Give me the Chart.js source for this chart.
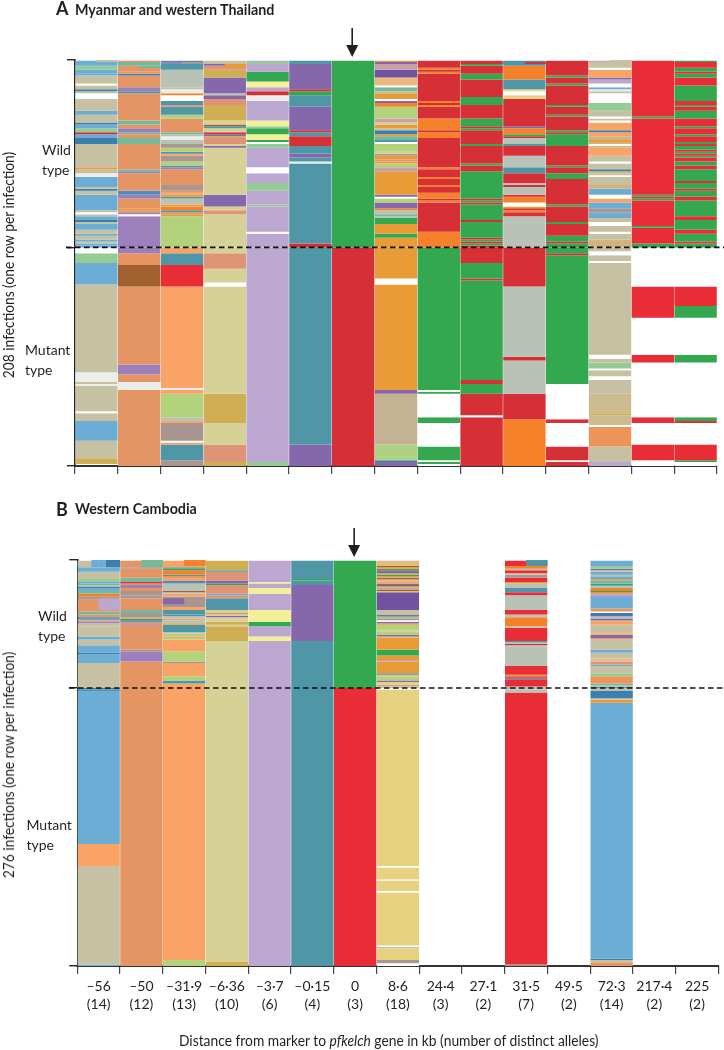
<!DOCTYPE html>
<html>
<head>
<meta charset="utf-8">
<script src="https://cdn.jsdelivr.net/npm/chart.js"></script>
<style>
  html, body { margin: 0; padding: 0; background: #fff; }
  body { width: 724px; height: 1050px; position: relative; overflow: hidden; font-family: Lato, "Noto Sans", sans-serif; color: #231f20; }
  canvas { position: absolute; left: 0; }
  .txt { position: absolute; white-space: nowrap; font-size: 14px; line-height: 20px; }
  .panel { font-weight: 700; font-size: 14.3px; }
  .letter { font-weight: 700; font-size: 18px; }
  .ylab { transform: translate(-50%, -50%) rotate(-90deg) scaleX(0.95); font-size: 14.5px; }
</style>
</head>
<body>
<canvas id="chartA" style="top:0"></canvas>
<canvas id="chartB" style="top:500px"></canvas>

<div class="txt letter" style="left:56px;top:-2px">A</div>
<div class="txt panel" style="left:75px;top:0px">Myanmar and western Thailand</div>
<div class="txt" style="left:42px;top:140px">Wild<br>type</div>
<div class="txt" style="left:25px;top:340px">Mutant<br>type</div>
<div class="txt ylab" style="left:9px;top:264.5px">208 infections (one row per infection)</div>

<div class="txt letter" style="left:56px;top:499px">B</div>
<div class="txt panel" style="left:75px;top:499px">Western Cambodia</div>
<div class="txt" style="left:38px;top:606px">Wild<br>type</div>
<div class="txt" style="left:26.5px;top:815px">Mutant<br>type</div>
<div class="txt ylab" style="left:9px;top:764.5px">276 infections (one row per infection)</div>
<div class="txt" style="left:179px;top:1031px;font-size:14.5px;transform:scaleX(0.953);transform-origin:left center">Distance from marker to <i>pfkelch</i> gene in kb (number of distinct alleles)</div>

<script>
"use strict";

const distances = ['–56', '–50', '–31·9', '–6·36', '–3·7', '–0·15', '0', '8·6', '24·4', '27·1', '31·5', '49·5', '72·3', '217·4', '225'];
const alleleCounts = ['(14)', '(12)', '(13)', '(10)', '(6)', '(4)', '(3)', '(18)', '(3)', '(2)', '(7)', '(2)', '(14)', '(2)', '(2)'];

const wildA = 96, totalA = 208;
const wildB = 87, totalB = 276;

// each column is allele code, number of rows ... from the top row down. w = no data
const a1 = ['bl',3,'lg',2,'bl',2,'bl',1,'tn',4,'w',1,'tn',2,'dk',1,'tn',1,'w',3,'tn',6,'bl',2,'tn',4,'dk',1,'bl',2,'lg',2,'rd',1,'bl',2,'dk',3,'tn',12,'am',1,'tn',2,'ws',2,'bl',5,'tn',1,'dk',1,'tn',2,'bl',8,'tn',1,'w',1,'tn',1,'bl',2,'dk',1,'tn',1,'bl',3,'tn',2,'bl',1,'tn',2,'bl',1,'tn',1,'bl',1,
  'bl',1,'w',3,'lg',5,'bl',11,'tn',45,'ws',5,'tn',1,'ws',1,'tn',13,'w',1,'tn',4,'bl',10,'tn',9,'mu',3];
const a2 = ['or',1,'sg',2,'or',3,'or',1,'dk',1,'or',6,'mv',2,'tl',1,'or',3,'or',11,'sg',2,'or',2,'mv',2,'sg',1,'or',2,'sg',3,'or',13,'sg',1,'mv',1,'or',9,'bb',2,'mv',2,'or',5,'am',1,'or',1,'mv',1,'w',1,'mv',16,
  'mv',3,'or',6,'br',11,'or',40,'mv',5,'or',4,'ws',4,'or',39];
const a3 = ['tl',1,'mv',1,'tl',3,'gy',9,'tn',1,'ws',2,'og',1,'w',3,'tl',2,'sl',1,'tl',4,'lm',2,'or',7,'sg',1,'gy',1,'ws',2,'gy',2,'tp',2,'lm',2,'tl',1,'pc',1,'tp',3,'lm',2,'tl',1,'mv',1,'or',8,'tp',3,'or',1,'pc',1,'am',1,'tl',1,'gy',3,'am',1,'og',2,'tl',1,'or',1,'am',1,'lm',16,
  'pc',3,'tl',6,'rb',11,'pc',52,'ws',1,'pc',2,'lm',12,'gy',2,'pc',1,'tp',9,'w',1,'pc',1,'tl',8,'tp',3];
const a4 = ['tn',2,'pu',1,'sl',2,'mu',4,'pu',8,'gy',1,'pu',2,'sl',3,'mu',8,'kh',2,'br',1,'tl',1,'kh',2,'rd',1,'pu',1,'mu',1,'sl',3,'kh',1,'pu',1,'kh',24,'pu',6,'kh',2,'sl',2,'kh',17,
  'kh',3,'sl',8,'kh',7,'w',2,'kh',55,'mu',15,'kh',11,'sl',9,'mu',2];
const a5 = ['li',1,'lg',1,'li',4,'gr',5,'yl',3,'li',2,'rd',2,'ws',3,'li',10,'yl',3,'lg',1,'gr',3,'yl',3,'gr',1,'w',1,'lg',2,'li',10,'w',3,'li',5,'lg',4,'li',7,'lg',1,'li',13,'w',1,'li',7,
  'li',110,'lg',2];
const a6 = ['tl',2,'pu',13,'rd',1,'gr',2,'tl',6,'pu',12,'rd',1,'tl',2,'rd',5,'tl',4,'pu',2,'tl',2,'ws',1,'tl',41,'rd',2,
  'tl',101,'pu',11];
const a7 = ['gr',96,'rd',112];
const a8 = ['am',1,'pu',1,'ma',3,'dp',4,'sa',4,'w',1,'sg',2,'tn',1,'am',3,'w',1,'pu',1,'og',2,'lm',6,'ma',2,'kh',1,'am',2,'tn',1,'dk',2,'am',1,'sg',2,'tl',1,'w',1,'lm',4,'kh',1,'tp',1,'am',2,'sl',1,'am',1,'lm',2,'ma',2,'am',12,'pu',1,'w',1,'lm',2,'pu',3,'og',1,'gy',2,'sg',1,'gy',1,'gr',3,'am',5,'gr',2,'am',5,
  'am',16,'w',3,'am',54,'pu',2,'sn',26,'lt',8,'dk',1,'pu',2];
const a9 = ['rd',4,'og',1,'rd',1,'og',1,'rd',14,'og',1,'rd',1,'og',1,'rd',6,'og',6,'rd',1,'og',3,'rd',15,'og',1,'rd',4,'og',1,'rd',3,'og',1,'rd',3,'og',3,'rd',1,'og',1,'rd',15,'og',8,
  'gr',73,'w',1,'gr',1,'w',12,'gr',3,'w',12,'gr',7,'w',1,'gr',1,'w',1];
const a10 = ['rd',2,'gr',1,'rd',4,'gr',3,'rd',9,'gr',4,'rd',7,'gr',4,'rd',1,'gr',1,'rd',7,'gr',1,'rd',9,'gr',1,'rd',3,'gr',14,'rd',1,'gr',1,'rd',1,'gr',8,'rd',1,'gr',8,'rd',1,'gr',1,'rd',1,'gr',1,'rd',1,
  'rd',8,'gr',8,'rd',1,'gr',51,'rd',2,'gr',5,'rd',11,'w',1,'rd',25];
const a11 = ['tl',3,'og',7,'tl',5,'go',1,'w',2,'go',2,'rd',14,'pu',1,'og',3,'gr',1,'rd',1,'gy',3,'tl',1,'rd',5,'gy',6,'tl',3,'rd',5,'gy',1,'rd',1,'gy',4,'rd',1,'og',3,'w',2,'am',1,'rd',1,'og',1,'rd',2,'gy',16,
  'rd',20,'gy',36,'rd',2,'gy',17,'rd',13,'og',24];
const a12 = ['rd',8,'gr',1,'rd',3,'gr',1,'rd',10,'gr',1,'rd',4,'gr',1,'rd',7,'gr',1,'rd',1,'gr',6,'rd',10,'gr',1,'rd',3,'gr',3,'rd',13,'gr',1,'rd',8,'gr',1,'rd',6,'gr',3,'rd',1,'gr',2,
  'gr',3,'rd',1,'gr',66,'w',18,'rd',2,'w',12,'rd',7,'w',1,'rd',2];
const a13 = ['li',1,'tn',3,'w',1,'pc',4,'pu',1,'li',2,'w',2,'bl',1,'ws',1,'tn',1,'w',5,'lg',4,'tn',3,'w',1,'tn',1,'w',1,'pc',4,'dk',1,'pc',2,'cb',2,'am',1,'cb',1,'w',1,'cb',1,'pc',4,'tn',3,'w',1,'tn',3,'dk',1,'cb',1,'tn',1,'w',1,'tn',4,'cb',2,'bl',3,'w',2,'pc',2,'bl',3,'tp',2,'bl',3,'tn',2,'w',2,'tn',3,'w',1,'tn',3,'cb',4,
  'tn',2,'w',2,'tn',3,'w',1,'tn',47,'w',2,'tn',2,'lg',3,'w',1,'tn',3,'w',2,'tn',7,'cm',10,'mu',1,'cm',5,'w',1,'oa',10,'tn',8,'li',2];
const a14 = ['rb',29,'gr',1,'rb',39,'gr',1,'rb',1,'gr',1,'rb',13,'gr',1,'rb',8,'gr',2,
  'w',20,'rb',16,'w',19,'rb',4,'w',28,'rb',3,'w',11,'rb',8,'w',3];
const a15 = ['gr',1,'rb',3,'gr',2,'rb',1,'gr',2,'rb',4,'gr',8,'rb',2,'gr',1,'rb',2,'gr',4,'rb',4,'gr',1,'rb',3,'gr',1,'rb',3,'gr',1,'rb',1,'gr',2,'rb',1,'gr',1,'rb',1,'gr',1,'rb',2,'gr',2,'rb',2,'gr',6,'rb',1,'gr',3,'rb',1,'gr',3,'rb',2,'gr',8,'rb',2,'gr',5,'rb',2,'gr',4,'rb',1,'gr',2,
  'w',20,'rb',10,'gr',6,'w',19,'gr',4,'w',28,'gr',2,'rb',1,'w',11,'rb',8,'gr',1,'w',2];

const b1 = ['tn',5,'bl',3,'tn',5,'lg',2,'bl',1,'sg',1,'tn',1,'dk',1,'bl',2,'sg',2,'og',2,'tp',2,'or',8,'sg',2,'or',2,'dk',1,'bl',1,'or',1,'mv',1,'tn',2,'tn',7,'bl',2,'tn',4,'bl',5,'dk',1,'bl',6,'tn',17,'dk',1,
  'tl',1,'bl',104,'pc',15,'tn',67,'bl',2];
const b2 = ['or',5,'tp',1,'or',6,'sg',3,'rb',1,'or',1,'mv',2,'or',2,'tp',3,'tp',2,'or',8,'sg',2,'tp',3,'or',1,'gr',1,'dk',1,'or',1,'mv',1,'or',17,'tp',1,'mv',7,'or',18,
  'or',189];
const b3 = ['pc',5,'tl',1,'gr',1,'og',3,'tl',1,'og',1,'pc',2,'pu',1,'tl',1,'gy',5,'br',1,'gy',1,'pc',2,'tp',7,'pc',2,'tl',3,'tl',1,'gy',2,'pc',1,'gy',2,'am',1,'tl',5,'gy',1,'lm',2,'pc',1,'lm',1,'pc',8,'lm',7,'tp',1,'pc',9,'lm',3,'tl',2,'pc',3,
  'pc',185,'lm',4];
const b4 = ['mu',7,'tl',1,'sl',6,'pu',2,'gr',1,'sl',6,'bl',1,'sl',2,'tl',8,'kh',2,'sl',1,'kh',1,'pu',1,'kh',3,'mu',2,'kh',1,'mu',10,'kh',32,
  'kh',186,'mu',3];
const b5 = ['li',15,'yl',1,'li',3,'yl',4,'li',11,'yl',8,'gr',3,'li',7,'yl',3,'li',32,
  'li',189];
const b6 = ['tl',13,'gr',1,'tl',3,'pu',38,'tl',32,
  'tl',189];
const b7 = ['gr',87,'rb',189];
const b8 = ['sa',4,'br',1,'am',1,'gr',1,'pu',2,'am',1,'gr',1,'am',1,'pu',1,'am',1,'sa',1,'pc',1,'pu',1,'br',1,'lm',1,'ma',1,'br',1,'sa',1,'dp',12,'tn',3,'pu',1,'sg',1,'am',1,'bl',1,'w',1,'pu',1,'am',1,'lm',4,'kh',1,'lm',2,'pu',1,'sa',1,'am',8,'gr',4,'am',3,'ma',1,'am',8,'tl',1,'sa',1,'lm',3,'pu',1,'go',2,'ma',1,'tn',1,
  'w',1,'go',120,'w',1,'go',8,'ws',1,'go',7,'w',1,'go',36,'w',1,'gy',1,'go',8,'tp',2,'ws',1,'w',1];
const b9 = [];
const b10 = [];
const b11 = ['rb',4,'og',2,'gy',1,'rb',2,'tn',1,'tp',2,'rb',3,'am',1,'gy',3,'tl',3,'rb',2,'gy',10,'rb',3,'gy',2,'og',6,'gy',1,'rb',9,'tl',1,'gy',1,'rd',1,'gy',1,'gy',13,'rb',6,'am',1,'rb',1,'tl',1,'rb',5,'gy',2,
  'gy',2,'rb',185,'tp',2];
const b12 = [];
const b13 = ['bl',4,'lg',2,'pu',1,'tn',1,'bl',2,'tn',1,'bl',2,'am',1,'bl',1,'sg',1,'gr',1,'bl',1,'tn',1,'og',2,'gr',1,'og',1,'li',1,'mv',1,'bl',8,'oa',2,'w',1,'dk',2,'li',1,'ma',1,'dk',1,'pc',3,'tn',5,'sa',2,'pu',2,'sl',1,'tn',7,'bl',2,'tn',4,'sa',2,'sl',2,'bl',1,'tn',5,'lg',2,'oa',5,'sg',1,'gy',1,'tl',1,
  'gy',2,'dk',5,'tn',1,'am',2,'bl',174,'dk',1,'tn',2,'oa',2];
const b14 = [];
const b15 = [];

const columnsA = [a1, a2, a3, a4, a5, a6, a7, a8, a9, a10, a11, a12, a13, a14, a15];
const columnsB = [b1, b2, b3, b4, b5, b6, b7, b8, b9, b10, b11, b12, b13, b14, b15];

// rows where a column is shared between alleles: column, from sixth, to sixth, first row, last row, allele
const splitsA = [
    [0, 3, 6, 0, 1, 'tn'], [1, 3, 6, 3, 4, 'sg'], [2, 3, 6, 1, 2, 'tp'], [3, 3, 6, 2, 4, 'am'],
    [10, 0, 3, 1, 2, 'tl'], [10, 3, 6, 1, 2, 'rd'], [12, 3, 6, 0, 1, 'tn']
];
const splitsB = [
    [0, 2, 4, 0, 5, 'bl'], [0, 4, 6, 0, 5, 'dk'], [0, 3, 6, 26, 34, 'li'], [1, 3, 6, 0, 5, 'sg'],
    [2, 3, 6, 0, 4, 'og'], [2, 0, 3, 26, 30, 'pu'], [10, 3, 6, 0, 4, 'tl']
];

const colors = {
    bl: '#6cadd5', dk: '#3a7fae', bb: '#4f8fc0', tn: '#c6c1a3', lg: '#93cd95', sg: '#74b99a',
    or: '#e59563', pc: '#f9a367', kh: '#d6d196', li: '#bca7d0', tl: '#4f97a6', gr: '#33a84e',
    rd: '#d62f36', rb: '#e92d37', pu: '#8568ab', dp: '#72529f', am: '#e89b37', og: '#f5822b',
    gy: '#b8c2b6', mu: '#cfae54', sl: '#df9476', lm: '#b3d27c', lt: '#aed283', yl: '#f3f097',
    br: '#a06030', mv: '#9d80bb', tp: '#aa9690', sa: '#e9b980', sn: '#c3b394', go: '#e6d27f',
    ma: '#c8a0a8', oa: '#ef9459', ws: '#eceeeb', cb: '#d2b27e', cm: '#cdbb90', w: '#ffffff'
};

function buildDatasets(columns, splits) {
    var sets = [];
    columns.forEach(function (col, idx) {
        for (var i = 0; i < col.length; i += 2) {
            var values = new Array(columns.length).fill(null);
            values[idx] = col[i + 1];
            sets.push({
                data: values,
                grouped: false,
                backgroundColor: colors[col[i]],
                borderWidth: 0,
                barPercentage: 0.99,
                categoryPercentage: 1
            });
        }
    });
    splits.forEach(function (s) {
        var values = new Array(columns.length * 6).fill(null);
        for (var k = s[1]; k < s[2]; k++) {
            values[s[0] * 6 + k] = [s[3], s[4]];
        }
        sets.push({
            data: values,
            xAxisID: 'xs',
            yAxisID: 'ys',
            grouped: false,
            order: -1, // on top of the full-width rows
            backgroundColor: colors[s[5]],
            borderWidth: 0,
            barPercentage: 1.02,
            categoryPercentage: 1
        });
    });
    return sets;
}

// dashed wild/mutant divider and the arrow over the marker column
const dividerPlugin = {
    id: 'divider',
    afterDraw: function (chart, args, opts) {
        const ctx = chart.ctx;
        const y = chart.scales.y.getPixelForValue(opts.wild);
        ctx.save();
        ctx.strokeStyle = '#111';
        ctx.lineWidth = 1.6;
        ctx.setLineDash([5.5, 3.5]);
        ctx.beginPath();
        ctx.moveTo(opts.from, y);
        ctx.lineTo(724, y);
        ctx.stroke();
        ctx.setLineDash([]);

        const x = chart.scales.x.getPixelForValue(6) - 1;
        const top = chart.chartArea.top;
        ctx.strokeStyle = '#231f20';
        ctx.fillStyle = '#231f20';
        ctx.lineWidth = 1.6;
        ctx.beginPath();
        ctx.moveTo(x, top - 32);
        ctx.lineTo(x, top - 12);
        ctx.stroke();
        ctx.beginPath();
        ctx.moveTo(x - 6, top - 15);
        ctx.lineTo(x + 6, top - 15);
        ctx.lineTo(x, top - 3);
        ctx.closePath();
        ctx.fill();
        ctx.restore();
    }
};

function makeChart(id, columns, splits, wild, total, conf) {
    const canvas = document.getElementById(id);
    canvas.width = 724;
    canvas.height = conf.height;
    canvas.style.width = '724px';
    canvas.style.height = conf.height + 'px';
    return new Chart(canvas, {
        type: 'bar',
        data: {
            labels: distances.map(function (d, i) { return [d, alleleCounts[i]]; }),
            datasets: buildDatasets(columns, splits)
        },
        plugins: [dividerPlugin],
        options: {
            responsive: false,
            animation: false,
            layout: { padding: { top: 60, right: conf.right, left: 0, bottom: 0 } },
            plugins: {
                legend: { display: false },
                tooltip: { enabled: false },
                divider: { wild: wild, from: conf.dashFrom }
            },
            scales: {
                x: {
                    stacked: true,
                    offset: true,
                    afterFit: function (s) { s.height = conf.height - 466; },
                    border: { color: '#333', width: 2 },
                    grid: { offset: true, drawOnChartArea: false, tickLength: 8, color: '#444', lineWidth: 1.2 },
                    ticks: {
                        display: conf.labels,
                        maxRotation: 0,
                        minRotation: 0,
                        autoSkip: false,
                        padding: 3,
                        color: '#231f20',
                        font: { family: 'Lato', size: 14, lineHeight: 1.32 }
                    }
                },
                y: {
                    stacked: true,
                    reverse: true,
                    min: 0,
                    max: total,
                    afterFit: function (s) { s.width = conf.left; },
                    afterBuildTicks: function (s) {
                        s.ticks = [{ value: 0 }, { value: wild }, { value: total }];
                    },
                    border: { color: '#222', width: 1.6 },
                    grid: { drawOnChartArea: false, tickLength: 8, color: '#222', lineWidth: 1.4 },
                    ticks: { display: false }
                },
                // hidden sixth-of-a-column scale for the rows that are split sideways
                xs: {
                    type: 'category',
                    labels: new Array(columns.length * 6).fill(''),
                    offset: true,
                    display: false
                },
                ys: { reverse: true, min: 0, max: total, display: false }
            }
        }
    });
}

makeChart('chartA', columnsA, splitsA, wildA, totalA, { height: 490, left: 75, right: 7, labels: false, dashFrom: 66 });
makeChart('chartB', columnsB, splitsB, wildB, totalB, { height: 550, left: 77.3, right: 5.5, labels: true, dashFrom: 69 });
</script>
</body>
</html>
